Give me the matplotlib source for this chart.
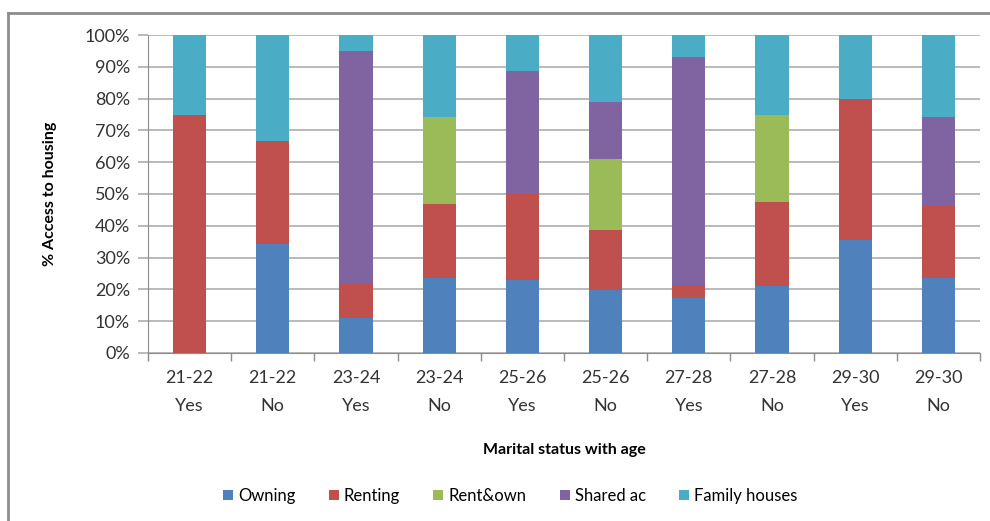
import matplotlib.pyplot as plt
from matplotlib.lines import Line2D
import numpy as np

# share of each housing type (%) by age group and marital status
ages = ['21-22', '21-22', '23-24', '23-24', '25-26', '25-26', '27-28', '27-28', '29-30', '29-30']
married = ['Yes', 'No', 'Yes', 'No', 'Yes', 'No', 'Yes', 'No', 'Yes', 'No']

owning = [0, 34.4, 11.0, 23.5, 23.1, 19.9, 17.3, 21.1, 35.5, 23.7]
renting = [75.0, 32.2, 10.8, 23.4, 27.0, 18.7, 4.0, 26.3, 44.4, 22.5]
rent_own = [0, 0, 0, 27.4, 0, 22.3, 0, 27.4, 0, 0]
shared = [0, 0, 73.3, 0, 38.5, 18.1, 71.7, 0, 0, 28.1]
family = [25.0, 33.4, 4.9, 25.7, 11.4, 21.0, 7.0, 25.2, 20.1, 25.7]

series = [('Owning', owning, '#4F81BD'),
          ('Renting', renting, '#C0504D'),
          ('Rent&own', rent_own, '#9BBB59'),
          ('Shared ac', shared, '#8064A2'),
          ('Family houses', family, '#4BACC6')]

plt.rcParams['font.family'] = ['Lato', 'DejaVu Sans']

fig = plt.figure(figsize=(9.9, 5.21), dpi=100)
ax = fig.add_axes([0.1495, 0.3225, 0.8404, 0.6103])

x = np.arange(len(ages))
bottom = np.zeros(len(ages))
for name, vals, col in series:
    vals = np.array(vals, dtype=float)
    ax.bar(x, vals, 0.4, bottom=bottom, color=col, label=name, zorder=3)
    bottom += vals

ax.set_xlim(-0.5, len(ages) - 0.5)
ax.set_ylim(0, 100)
ax.set_yticks(np.arange(0, 101, 10))
ax.set_yticklabels([f'{v}%' for v in range(0, 101, 10)], fontsize=13, color='#333333')
ax.yaxis.grid(True, color='#B4B4B4', linewidth=1.3, zorder=0)

ax.set_xticks(x)
ax.set_xticklabels([f'{a}\n{m}' for a, m in zip(ages, married)], fontsize=13,
                   color='#333333', linespacing=1.95)
ax.tick_params(axis='x', length=0, pad=12)
ax.set_xticks(np.arange(-0.5, len(ages)), minor=True)
ax.tick_params(axis='x', which='minor', length=6, color='#8C8C8C', width=1)
ax.tick_params(axis='y', length=7, color='#B4B4B4', width=1.3, pad=6)

for s in ['top', 'right']:
    ax.spines[s].set_visible(False)
ax.spines['left'].set_color('#8C8C8C')
ax.spines['bottom'].set_color('#8C8C8C')

ax.set_ylabel('% Access to housing', fontsize=11.5, fontweight='bold', labelpad=20)
ax.set_xlabel('Marital status with age', fontsize=11.5, fontweight='bold', labelpad=21)

ax.legend(loc='center', bbox_to_anchor=(0.5155, 0.048), bbox_transform=fig.transFigure,
          ncol=5, frameon=False, fontsize=12, handlelength=0.6, handleheight=0.6,
          handletextpad=0.3, columnspacing=2.0)

# outer chart frame
fig.add_artist(Line2D([0.0081, 0.0081], [0, 0.975], color='#8C8C8C', linewidth=2,
                      transform=fig.transFigure))
fig.add_artist(Line2D([0.0081, 1.0], [0.975, 0.975], color='#8C8C8C', linewidth=2,
                      transform=fig.transFigure))

fig.savefig('out.png', dpi=100)
